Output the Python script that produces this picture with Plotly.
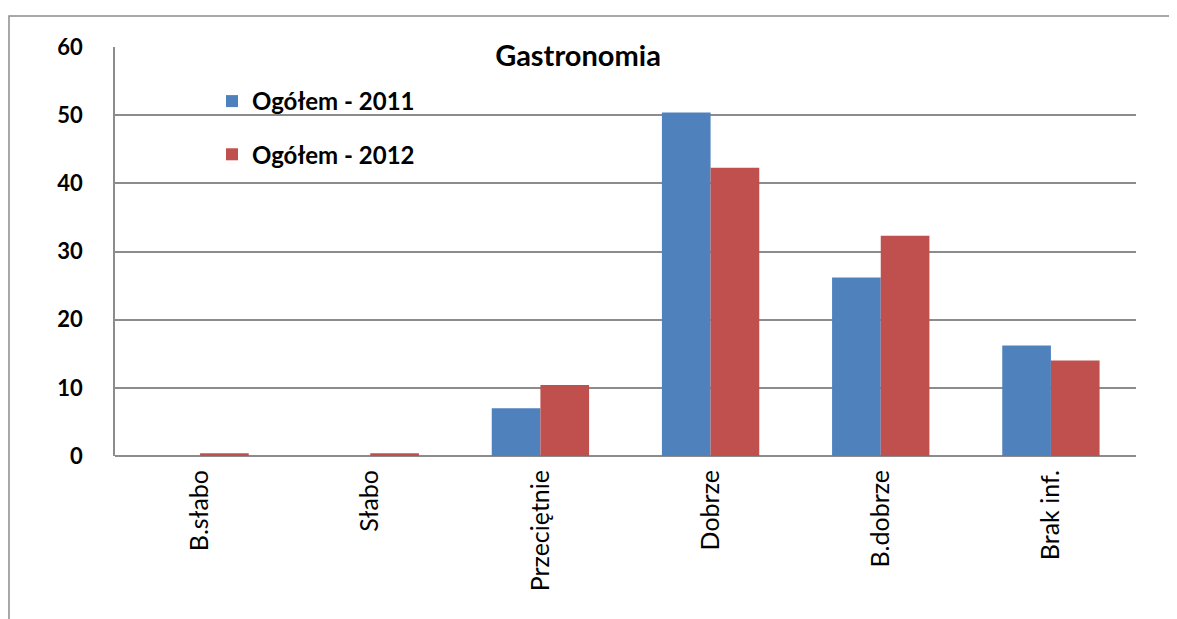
import plotly.graph_objects as go

categories = ["B.słabo", "Słabo", "Przeciętnie", "Dobrze", "B.dobrze", "Brak inf."]
values_2011 = [0, 0, 7.0, 50.4, 26.2, 16.2]
values_2012 = [0.4, 0.4, 10.4, 42.3, 32.3, 14.0]
series_names = ["Ogółem - 2011", "Ogółem - 2012"]
colors = ["#4F81BD", "#C0504D"]
y_ticks = [0, 10, 20, 30, 40, 50, 60]

OFF = 8  # page body margin
W, H = 1177 - OFF, 619 - OFF
L, R, T, B = 115 - OFF, 41, 47 - OFF, 163
pw, ph = W - L - R, H - T - B

def px_x(px):
    return (px - OFF - L) / pw

def px_y(py):
    return (H - B - (py - OFF)) / ph

fig = go.Figure()
for name, vals, col, grp in zip(series_names, [values_2011, values_2012], colors, ["a", "b"]):
    fig.add_trace(go.Bar(x=categories, y=vals, name=f"<b>{name}</b>", marker_color=col,
                         marker_line_width=0, legendgroup=grp))

fig.update_layout(
    width=W, height=H,
    margin=dict(l=L, r=R, t=T, b=B, autoexpand=False),
    paper_bgcolor="white", plot_bgcolor="white",
    bargap=0.428, bargroupgap=0,
    font=dict(family="Lato, Open Sans, sans-serif", color="black"),
    title=dict(text="<b>Gastronomia</b>", x=px_x(578), xref="paper", xanchor="center",
               y=1 - (56 - OFF) / H, yanchor="middle", yref="container",
               font=dict(size=29, color="black")),
    legend=dict(x=px_x(212), y=px_y(79), xanchor="left", yanchor="top",
                bgcolor="rgba(0,0,0,0)", traceorder="grouped", tracegroupgap=19,
                font=dict(size=24, color="black", family="Lato, sans-serif"),
                itemclick=False),
    xaxis=dict(tickangle=-90, showgrid=False, showline=False, ticks="",
               ticklabelstandoff=8,
               tickfont=dict(size=25, color="black")),
    yaxis=dict(range=[0, 60], tickvals=y_ticks, ticktext=[f"<b>{v}</b>" for v in y_ticks],
               showgrid=True, gridcolor="#8C8C8C", gridwidth=1.5,
               showline=True, linecolor="#8C8C8C", linewidth=1.5,
               zeroline=True, zerolinecolor="#8C8C8C", zerolinewidth=1.5,
               ticks="", ticklabelstandoff=26,
               tickfont=dict(size=22, color="black")),
)

# outer chart border (extends past the right and bottom edges)
fig.add_shape(type="rect", xref="paper", yref="paper",
              x0=px_x(9), x1=px_x(1190), y0=px_y(640), y1=px_y(16),
              line=dict(color="#8C8C8C", width=1.5), fillcolor="rgba(0,0,0,0)", layer="below")

fig.write_html("out.html")
